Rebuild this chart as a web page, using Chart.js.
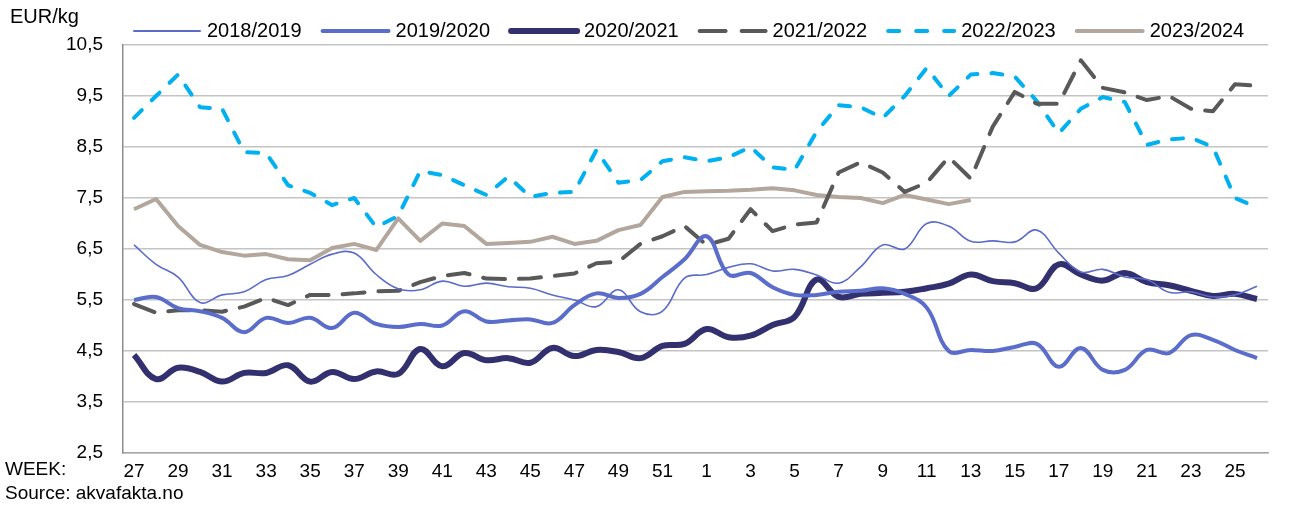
<!DOCTYPE html>
<html>
<head>
<meta charset="utf-8">
<script src="https://cdn.jsdelivr.net/npm/chart.js@4.4.1/dist/chart.umd.min.js"></script>
<style>
  html, body { margin: 0; padding: 0; background: #fff; }
  #wrap { width: 1291px; height: 509px; }
</style>
</head>
<body>
<div id="wrap"><canvas id="chart" width="1291" height="509"></canvas></div>
<script>
// weeks 27..52 then 1..26
const weeks = ['27','28','29','30','31','32','33','34','35','36','37','38','39','40','41','42','43','44','45','46','47','48','49','50','51','52',
               '1','2','3','4','5','6','7','8','9','10','11','12','13','14','15','16','17','18','19','20','21','22','23','24','25','26'];

const yTicks = [2.5, 3.5, 4.5, 5.5, 6.5, 7.5, 8.5, 9.5, 10.5];

const s2018 = [6.58, 6.20, 5.95, 5.45, 5.60, 5.66, 5.90, 5.98, 6.20, 6.40, 6.42, 6.00, 5.72, 5.70, 5.87, 5.77, 5.83, 5.76, 5.73, 5.60, 5.50, 5.37, 5.70, 5.27, 5.28, 5.93,
               6.00, 6.14, 6.21, 6.07, 6.10, 5.99, 5.83, 6.15, 6.58, 6.50, 7.00, 6.95, 6.65, 6.66, 6.64, 6.87, 6.42, 6.05, 6.10, 5.95, 5.90, 5.65, 5.66, 5.56, 5.60, 5.77];

const s2019 = [5.50, 5.56, 5.34, 5.28, 5.15, 4.87, 5.15, 5.05, 5.15, 4.95, 5.25, 5.03, 4.97, 5.03, 5.00, 5.28, 5.08, 5.10, 5.12, 5.05, 5.40, 5.63, 5.54, 5.62, 5.95, 6.30,
               6.75, 6.00, 6.03, 5.75, 5.60, 5.60, 5.66, 5.68, 5.73, 5.62, 5.35, 4.50, 4.52, 4.50, 4.58, 4.64, 4.19, 4.56, 4.13, 4.13, 4.52, 4.46, 4.81, 4.72, 4.52, 4.36];

const s2020 = [4.42, 3.95, 4.17, 4.09, 3.90, 4.07, 4.07, 4.22, 3.90, 4.09, 3.95, 4.10, 4.05, 4.54, 4.20, 4.46, 4.32, 4.36, 4.27, 4.56, 4.40, 4.52, 4.48, 4.36, 4.60, 4.64,
               4.93, 4.77, 4.80, 5.01, 5.17, 5.90, 5.56, 5.62, 5.64, 5.66, 5.73, 5.82, 6.00, 5.87, 5.83, 5.73, 6.20, 6.00, 5.88, 6.03, 5.85, 5.79, 5.68, 5.58, 5.62, 5.52];

const s2021 = [5.42, 5.25, 5.30, 5.30, 5.27, 5.37, 5.54, 5.40, 5.60, 5.60, 5.63, 5.67, 5.68, 5.85, 5.97, 6.03, 5.92, 5.91, 5.92, 5.97, 6.02, 6.22, 6.25, 6.60, 6.75, 6.95,
               6.58, 6.70, 7.28, 6.85, 6.98, 7.02, 8.00, 8.20, 8.00, 7.62, 7.80, 8.30, 7.88, 8.90, 9.58, 9.35, 9.35, 10.20, 9.66, 9.57, 9.42, 9.50, 9.25, 9.20, 9.73, 9.70];

const s2022 = [9.07, 9.50, 9.92, 9.28, 9.25, 8.40, 8.38, 7.75, 7.60, 7.36, 7.50, 6.93, 7.15, 8.03, 7.95, 7.75, 7.56, 7.92, 7.52, 7.60, 7.62, 8.44, 7.80, 7.85, 8.22, 8.30,
               8.22, 8.30, 8.50, 8.10, 8.05, 8.80, 9.32, 9.28, 9.07, 9.50, 10.05, 9.50, 9.92, 9.95, 9.88, 9.40, 8.77, 9.25, 9.48, 9.38, 8.54, 8.65, 8.68, 8.50, 7.50, 7.32];

const s2023 = [7.28, 7.48, 6.95, 6.58, 6.44, 6.37, 6.40, 6.30, 6.28, 6.52, 6.60, 6.48, 7.10, 6.66, 7.00, 6.95, 6.60, 6.62, 6.64, 6.74, 6.60, 6.66, 6.87, 6.97, 7.52, 7.62,
               7.63, 7.64, 7.66, 7.69, 7.65, 7.56, 7.52, 7.50, 7.40, 7.56, 7.47, 7.38, 7.46];

const FONT = "'Liberation Sans', Arial, sans-serif";

// legend + free texts drawn on the canvas
const extraText = {
  id: 'extraText',
  afterDraw(chart) {
    const ctx = chart.ctx;
    ctx.save();
    ctx.fillStyle = '#000';
    ctx.textBaseline = 'middle';
    ctx.textAlign = 'left';
    ctx.font = '20px ' + FONT;
    ctx.fillText('EUR/kg', 10, 17);
    ctx.font = '19px ' + FONT;
    ctx.fillText('WEEK:', 5, 470);
    ctx.fillText('Source: akvafakta.no', 5, 494);

    // legend
    ctx.font = '20px ' + FONT;
    let x = 132;
    const y = 31;
    chart.data.datasets.forEach(ds => {
      ctx.save();
      ctx.strokeStyle = ds.borderColor;
      ctx.lineWidth = ds.legendWidth;
      ctx.lineCap = 'round';
      ctx.setLineDash(ds.legendDash || []);
      ctx.beginPath();
      ctx.moveTo(x + 2, y);
      ctx.lineTo(x + 68, y);
      ctx.stroke();
      ctx.restore();
      ctx.fillText(ds.label, x + 75, y);
      x += 75 + ctx.measureText(ds.label).width + 19;
    });
    ctx.restore();
  }
};

new Chart(document.getElementById('chart'), {
  type: 'line',
  data: {
    labels: weeks,
    datasets: [
      { label: '2018/2019', data: s2018, borderColor: '#5a6bc9', borderWidth: 1.6, tension: 0.4, legendWidth: 2 },
      { label: '2019/2020', data: s2019, borderColor: '#5b6dcb', borderWidth: 4, tension: 0.4, legendWidth: 4 },
      { label: '2020/2021', data: s2020, borderColor: '#33306f', borderWidth: 6, tension: 0.4, legendWidth: 6 },
      { label: '2021/2022', data: s2021, borderColor: '#595959', borderWidth: 4, borderDash: [22, 14], borderCapStyle: 'round', tension: 0, legendWidth: 4, legendDash: [26, 16] },
      { label: '2022/2023', data: s2022, borderColor: '#00b0f0', borderWidth: 4, borderDash: [11, 14], borderCapStyle: 'round', tension: 0, legendWidth: 4, legendDash: [11, 17] },
      { label: '2023/2024', data: s2023, borderColor: '#b3a79d', borderWidth: 4, tension: 0, legendWidth: 4 }
    ]
  },
  options: {
    responsive: false,
    animation: false,
    devicePixelRatio: 1,
    layout: { padding: { top: 45, right: 23, bottom: 0, left: 0 } },
    elements: {
      point: { radius: 0 },
      line: { borderJoinStyle: 'round', fill: false }
    },
    scales: {
      x: {
        offset: true,
        grid: { display: false, drawTicks: false },
        border: { display: true, color: '#a6a6a6', width: 1.5 },
        afterFit: s => { s.height = 56; },
        ticks: {
          autoSkip: false,
          maxRotation: 0,
          padding: 7,
          color: '#000',
          font: { family: FONT, size: 19 },
          callback: function (v, i) { return i % 2 === 0 ? this.getLabelForValue(v) : null; }
        }
      },
      y: {
        min: 2.5,
        max: 10.5,
        afterFit: s => { s.width = 123; },
        afterBuildTicks: s => { s.ticks = yTicks.map(v => ({ value: v })); },
        grid: { color: '#c4c4c4', lineWidth: 1.5, drawTicks: false },
        border: { display: true, color: '#8c8c8c', width: 1.5 },
        ticks: {
          padding: 20,
          color: '#000',
          font: { family: FONT, size: 19 },
          callback: v => v.toFixed(1).replace('.', ',')
        }
      }
    },
    plugins: {
      legend: { display: false },
      tooltip: { enabled: false }
    }
  },
  plugins: [extraText]
});
</script>
</body>
</html>
